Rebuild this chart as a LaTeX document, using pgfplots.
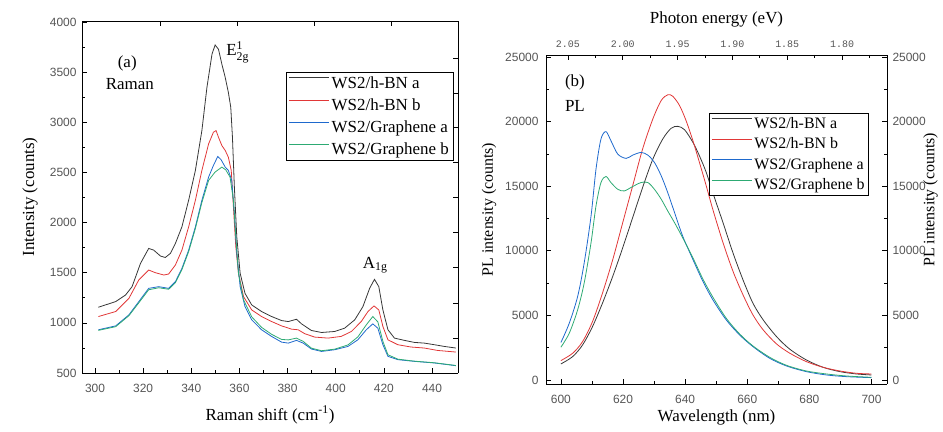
\documentclass[border=0pt]{standalone}
\usepackage{fontspec}
\usepackage{amsmath}
\setmainfont{Liberation Serif}
\newfontfamily\ticksans{Liberation Sans}
\newfontfamily\tickmono{Liberation Mono}
\usepackage{pgfplots}
\pgfplotsset{compat=1.18}
\definecolor{cblack}{RGB}{55,55,55}
\definecolor{cred}{RGB}{225,55,55}
\definecolor{cblue}{RGB}{30,105,205}
\definecolor{cgreen}{RGB}{45,170,115}
\definecolor{tickgray}{RGB}{85,85,85}
\newcommand{\lab}{\fontsize{17}{20}\selectfont}
\newcommand{\labs}{\fontsize{16}{19}\selectfont}
\pgfplotsset{
  common/.style={
    scale only axis, anchor=south west,
    tick align=inside,
    axis line style={black, line width=0.9pt},
    major tick length=5bp, minor tick length=3bp,
    every tick/.style={black, line width=0.7pt},
    /pgf/number format/assume math mode=true,
    /pgf/number format/1000 sep={},
    scaled ticks=false,
    tick label style={font=\ticksans\fontsize{12}{12}\selectfont, text=tickgray},
    legend cell align=left,
    legend image code/.code={\draw[#1, line width=1pt] (0bp,5bp) -- (40bp,5bp);},
  },
}
\begin{document}
\begin{tikzpicture}
\path[use as bounding box] (0,0) rectangle (943bp,432bp);
% ---------------- (a) Raman ----------------
\begin{axis}[common, at={(82bp,59bp)}, width=376bp, height=352bp,
  xmin=294.6, xmax=450.8, ymin=500, ymax=4010,
  axis x line*=bottom, axis y line*=left,
  xtick={300,320,...,440}, minor x tick num=1,
  ytick={500,1000,...,4000}, minor y tick num=1,
  xticklabel style={yshift=-8bp}, yticklabel style={xshift=-2bp},
  xlabel={Raman shift (cm\textsuperscript{-1})},
  ylabel={Intensity (counts)},
  every axis x label/.style={at={(axis description cs:0.5,-0.119)}, anchor=center, font=\lab},
  every axis y label/.style={at={(axis description cs:-0.138,0.5)}, anchor=center, rotate=90, font=\lab},
  legend style={at={(axis description cs:0.987,0.855)}, anchor=north east, draw=black, line width=0.6pt,
    font=\fontsize{17}{19}\selectfont, inner sep=2bp, row sep=5bp},
]
\addplot[cblack, line width=0.8pt] coordinates {
(301.4,1156) (308.6,1212) (312.7,1278) (315.4,1361) (318.9,1593) (322.3,1742) (324.4,1725) (327.2,1666) (329.2,1652) (331.3,1692) (333.4,1792) (336.1,1957) (338.9,2222) (341.7,2520) (344.4,2917) (346.5,3348) (348.6,3679) (349.9,3771) (351.3,3728) (352.7,3580) (354.1,3447) (355.4,3298) (356.4,3150) (357.1,2851) (357.9,2354) (358.9,1858) (360.3,1494) (362.3,1295) (365.1,1179) (369.2,1113) (373.4,1063) (377.5,1023) (380.3,1013) (383.7,1036) (385.8,990) (389.9,924) (394.1,904) (399.6,914) (403.7,947) (407.9,1030) (411.3,1162) (414.1,1345) (416.1,1434) (417.9,1361) (419.6,1129) (421.7,931) (424.4,848) (428.6,825) (432.7,805) (436.8,798) (441.0,782) (445.1,765) (449.9,749)
};
\addlegendentry{WS2/h-BN a}
\addplot[cred, line width=0.8pt] coordinates {
(301.4,1063) (308.6,1113) (314.1,1245) (318.2,1428) (322.3,1527) (325.1,1500) (328.6,1477) (330.6,1487) (333.4,1577) (336.1,1725) (338.9,1957) (341.7,2222) (344.4,2520) (347.2,2785) (349.2,2901) (350.3,2917) (351.3,2851) (352.7,2768) (354.1,2719) (355.4,2652) (356.6,2520) (357.5,2156) (358.5,1758) (359.6,1494) (361.7,1262) (365.1,1129) (369.2,1063) (373.4,1013) (377.5,970) (381.7,937) (384.4,931) (387.2,891) (391.3,858) (396.8,848) (402.3,865) (406.5,914) (410.6,1013) (413.4,1113) (415.9,1169) (417.9,1129) (419.6,964) (421.7,831) (425.8,782) (431.3,759) (436.8,749) (442.3,725) (449.9,709)
};
\addlegendentry{WS2/h-BN b}
\addplot[cblue, line width=0.8pt] coordinates {
(301.4,931) (308.6,970) (314.1,1080) (318.2,1212) (322.3,1344) (326.5,1361) (330.6,1344) (333.4,1411) (336.1,1543) (338.9,1725) (341.7,1957) (344.4,2222) (347.2,2454) (349.2,2570) (351.0,2659) (352.4,2626) (354.1,2553) (355.4,2520) (356.8,2421) (357.9,2090) (358.9,1692) (360.3,1361) (362.3,1163) (365.1,1030) (369.2,931) (373.4,864) (377.5,808) (380.3,798) (383.7,825) (386.5,798) (389.9,739) (394.1,715) (399.6,732) (405.1,765) (409.2,831) (412.7,931) (415.4,990) (417.5,947) (419.6,782) (421.7,666) (425.8,633) (432.7,616) (441.0,600) (449.9,573)
};
\addlegendentry{WS2/Graphene a}
\addplot[cgreen, line width=0.8pt] coordinates {
(301.4,925) (308.6,962) (314.1,1072) (318.2,1200) (322.3,1330) (326.5,1350) (330.6,1335) (333.4,1400) (336.1,1530) (338.9,1710) (341.7,1940) (344.4,2200) (347.2,2421) (349.9,2504) (352.7,2553) (354.3,2526) (356.1,2454) (357.5,2222) (358.5,1858) (359.6,1494) (361.7,1230) (365.1,1060) (369.2,955) (373.4,885) (377.5,835) (380.3,830) (383.7,848) (386.5,815) (389.9,748) (394.1,722) (399.6,738) (405.1,780) (409.2,860) (412.7,980) (415.4,1063) (417.5,1010) (419.6,815) (421.7,682) (425.8,638) (432.7,618) (441.0,602) (449.9,575)
};
\addlegendentry{WS2/Graphene b}
\node[font=\lab] at (axis cs:313.4,3591) {(a)};
\node[font=\lab] at (axis cs:314.5,3383) {Raman};
\node[font=\lab] at (axis cs:359.3,3700) {E$^{\text{1}}_{\text{2g}}$};
\node[font=\lab] at (axis cs:416.4,1574) {A\textsubscript{1g}};
\end{axis}
\begin{axis}[common, at={(82bp,59bp)}, width=376bp, height=352bp,
  xmin=294.6, xmax=450.8, ymin=500, ymax=4010,
  axis x line*=top, axis y line*=right,
  xtick={327,359,391,423}, xticklabels={},
  ytick={848,1196,1554,1902,2249,2597,2945,3293,3641}, yticklabels={},
]
\end{axis}
% ---------------- (b) PL ----------------
\begin{axis}[common, at={(546bp,48bp)}, width=341bp, height=329bp,
  xmin=595.2, xmax=705, ymin=-310, ymax=25150,
  axis x line*=bottom, axis y line*=left,
  xtick={600,620,...,700}, minor x tick num=1,
  ytick={0,5000,...,25000}, minor y tick num=1,
  xticklabel style={yshift=-8bp}, yticklabel style={xshift=-4bp},
  xlabel={Wavelength (nm)},
  ylabel={PL intensity (counts)},
  every axis x label/.style={at={(axis description cs:0.5,-0.103)}, anchor=center, font=\lab},
  every axis y label/.style={at={(axis description cs:-0.167,0.53)}, anchor=center, rotate=90, font=\labs},
  legend style={at={(axis description cs:0.947,0.824)}, anchor=north east, draw=black, line width=0.6pt,
    font=\fontsize{16}{17}\selectfont, inner sep=2bp, row sep=4bp},
]
\addplot[cblack, line width=0.8pt, smooth] coordinates {
(600,1243) (603.8,1813) (607.0,2720) (610.2,4144) (613.4,5957) (616.7,8029) (619.9,10230) (623.1,12560) (626.3,14890) (629.6,17090) (632.8,18650) (635.5,19480) (637.6,19630) (639.8,19370) (642.5,18390) (644.6,17350) (646.8,16060) (648.9,14500) (652.2,12170) (655.4,9840) (658.6,7770) (661.8,5957) (665.1,4662) (669.4,3367) (673.7,2383) (679.0,1554) (684.4,984) (689.8,648) (695.2,466) (700,389)
};
\addlegendentry{WS2/h-BN a}
\addplot[cred, line width=0.8pt, smooth] coordinates {
(600,1502) (603.8,2072) (607.0,2979) (610.2,4533) (613.4,6734) (616.7,9324) (619.9,12173) (623.1,15020) (626.3,17870) (629.6,20200) (632.3,21630) (634.4,22070) (636.0,21960) (638.2,21240) (640.3,20070) (642.5,18520) (644.6,16840) (646.8,15020) (648.9,13210) (652.2,10620) (655.4,8418) (658.6,6605) (661.8,5051) (665.1,3885) (669.4,2797) (673.7,2072) (679.0,1425) (684.4,984) (689.8,699) (695.2,518) (700,466)
};
\addlegendentry{WS2/h-BN b}
\addplot[cblue, line width=0.8pt, smooth] coordinates {
(600,2900) (602.7,4403) (605.4,6475) (607.5,9065) (609.7,12690) (611.3,16320) (612.9,18650) (614.5,19220) (616.1,18520) (618.3,17480) (621.0,17150) (623.1,17400) (625.8,17610) (628.0,17400) (630.1,16840) (632.3,15800) (634.4,14500) (636.6,12950) (639.2,11140) (642.5,9324) (645.7,7641) (648.9,6216) (653.2,4662) (657.5,3497) (661.8,2590) (667.2,1684) (672.6,1088) (679.0,648) (685.5,389) (691.9,259) (700,181)
};
\addlegendentry{WS2/Graphene a}
\addplot[cgreen, line width=0.8pt, smooth] coordinates {
(600,2538) (602.7,3626) (605.4,5439) (607.5,7511) (609.7,10620) (611.3,13470) (612.9,15280) (614.5,15750) (616.1,15280) (618.3,14760) (620.4,14630) (623.1,14970) (625.8,15280) (628.0,15280) (630.1,14760) (632.3,13990) (634.4,13080) (636.6,12170) (639.2,11010) (642.5,9454) (645.7,7822) (648.9,6423) (653.2,4792) (657.5,3574) (661.8,2642) (667.2,1761) (672.6,1140) (679.0,699) (685.5,466) (691.9,311) (700,207)
};
\addlegendentry{WS2/Graphene b}
\node[font=\lab, anchor=west] at (axis cs:600.2,22990) {(b)};
\node[font=\lab, anchor=west] at (axis cs:600.2,21210) {PL};
\end{axis}
\begin{axis}[common, at={(546bp,48bp)}, width=341bp, height=329bp,
  xmin=1.759, xmax=2.070, x dir=reverse, ymin=-310, ymax=25150,
  axis x line*=top, axis y line*=right,
  xtick={1.80,1.85,1.90,1.95,2.00,2.05},
  xticklabels={1.80,1.85,1.90,1.95,2.00,2.05},
  minor xtick={1.775,1.825,1.875,1.925,1.975,2.025},
  ytick={0,5000,...,25000}, minor y tick num=1,
  xticklabel style={font=\tickmono\fontsize{10}{10}\selectfont, yshift=4bp},
  yticklabel style={xshift=2bp},
  xlabel={Photon energy (eV)},
  ylabel={PL intensity (counts)},
  every axis x label/.style={at={(axis description cs:0.5,1.109)}, anchor=center, font=\lab},
  every axis y label/.style={at={(axis description cs:1.128,0.56)}, anchor=center, rotate=90, font=\labs},
]
\end{axis}
\end{tikzpicture}
\end{document}
